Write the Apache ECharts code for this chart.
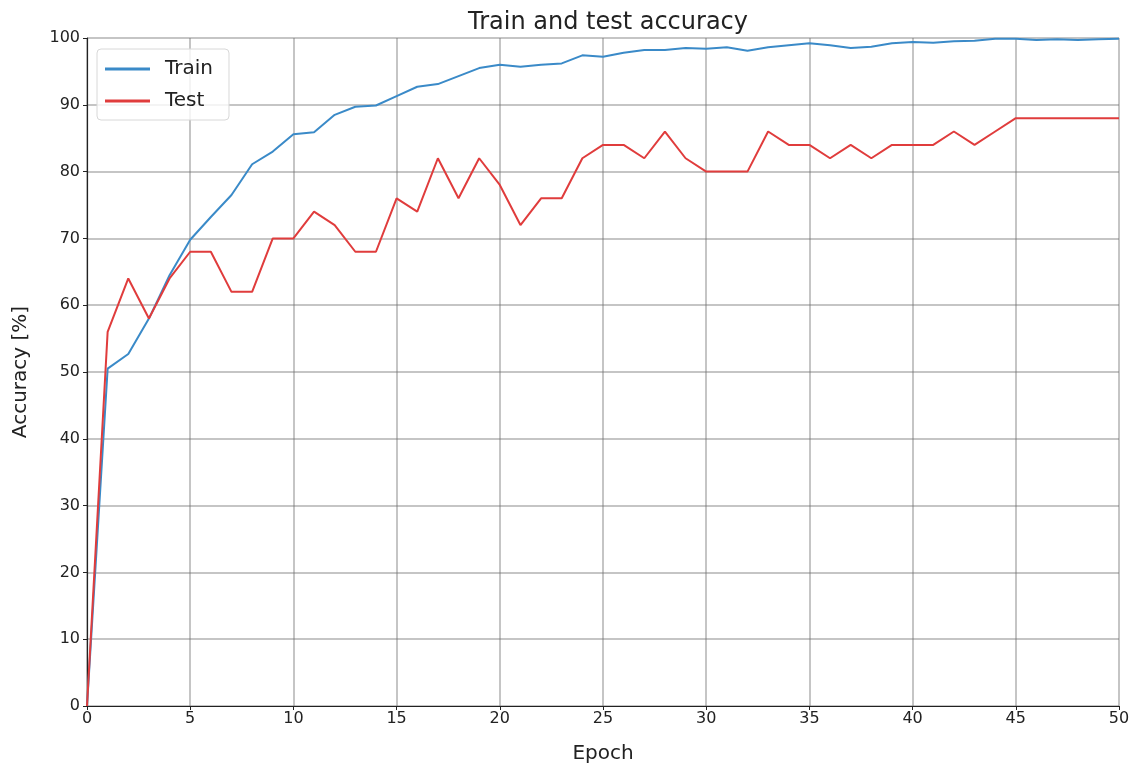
<!DOCTYPE html>
<html>
<head>
<meta charset="utf-8">
<script src="https://cdn.jsdelivr.net/npm/echarts@6/dist/echarts.min.js"></script>
<style>html,body{margin:0;padding:0;background:#fff}#c{width:1137px;height:769px}</style>
</head>
<body>
<div id="c"></div>
<script>
const epochs = Array.from({length: 51}, (_, i) => i);
const trainAcc = [0, 50.5, 52.7, 58, 64.5, 69.8, 73.2, 76.5, 81.1, 83, 85.6, 85.9, 88.5, 89.7, 89.9, 91.3, 92.7, 93.1, 94.3, 95.5, 96.0, 95.7, 96.0, 96.2, 97.4, 97.2, 97.8, 98.2, 98.2, 98.5, 98.4, 98.6, 98.1, 98.6, 98.9, 99.2, 98.9, 98.5, 98.7, 99.2, 99.4, 99.3, 99.5, 99.6, 99.9, 99.9, 99.7, 99.8, 99.7, 99.8, 99.9];
const testAcc = [0, 56, 64, 58, 64, 68, 68, 62, 62, 70, 70, 74, 72, 68, 68, 76, 74, 82, 76, 82, 78, 72, 76, 76, 82, 84, 84, 82, 86, 82, 80, 80, 80, 86, 84, 84, 82, 84, 82, 84, 84, 84, 86, 84, 86, 88, 88, 88, 88, 88, 88];
const titleText = 'Train and test accuracy';
const xName = 'Epoch';
const yName = 'Accuracy [%]';

const chart = echarts.init(document.getElementById('c'), null, {renderer: 'canvas'});
const font = 'DejaVu Sans';
chart.setOption({
  animation: false,
  backgroundColor: '#fff',
  title: {
    text: titleText, left: 603, top: 6, textAlign: 'center',
    textStyle: {fontFamily: font, fontSize: 24, fontWeight: 'normal', color: '#222'}
  },
  legend: {
    orient: 'vertical', left: 97, top: 49,
    padding: [10, 16, 9, 8],
    itemGap: 12, itemWidth: 45, itemHeight: 3,
    backgroundColor: 'rgba(255,255,255,0.8)',
    borderColor: '#d8d8d8', borderWidth: 1, borderRadius: 4,
    textStyle: {fontFamily: font, fontSize: 20, color: '#222', padding: [0, 0, 0, 10]},
    data: [{name: 'Train', icon: 'rect'}, {name: 'Test', icon: 'rect'}]
  },
  grid: {left: 87, right: 18, top: 38, bottom: 60, containLabel: false},
  xAxis: {
    type: 'value', min: 0, max: 50, interval: 5,
    name: xName, nameLocation: 'middle', nameGap: 38,
    nameTextStyle: {fontFamily: font, fontSize: 20, color: '#222'},
    axisLine: {show: true, lineStyle: {color: '#222', width: 1.2}},
    axisTick: {show: true, length: 4, lineStyle: {color: '#222'}},
    axisLabel: {fontFamily: font, fontSize: 16, color: '#222', margin: 5},
    splitLine: {show: true, lineStyle: {color: 'rgba(110,110,110,0.4)', width: 2}}
  },
  yAxis: {
    type: 'value', min: 0, max: 100, interval: 10,
    name: yName, nameLocation: 'middle', nameGap: 56, nameRotate: 90,
    nameTextStyle: {fontFamily: font, fontSize: 20, color: '#222'},
    axisLine: {show: true, lineStyle: {color: '#222', width: 1.2}},
    axisTick: {show: true, length: 4, lineStyle: {color: '#222'}},
    axisLabel: {fontFamily: font, fontSize: 16, color: '#222', margin: 7},
    splitLine: {show: true, lineStyle: {color: 'rgba(110,110,110,0.4)', width: 2}}
  },
  series: [
    {name: 'Train', type: 'line', showSymbol: false, symbol: 'none',
     data: epochs.map((e, i) => [e, trainAcc[i]]),
     itemStyle: {color: '#3a8ac8'}, lineStyle: {color: '#3a8ac8', width: 2}},
    {name: 'Test', type: 'line', showSymbol: false, symbol: 'none',
     data: epochs.map((e, i) => [e, testAcc[i]]),
     itemStyle: {color: '#e03c3c'}, lineStyle: {color: '#e03c3c', width: 2}}
  ]
});
</script>
</body>
</html>
